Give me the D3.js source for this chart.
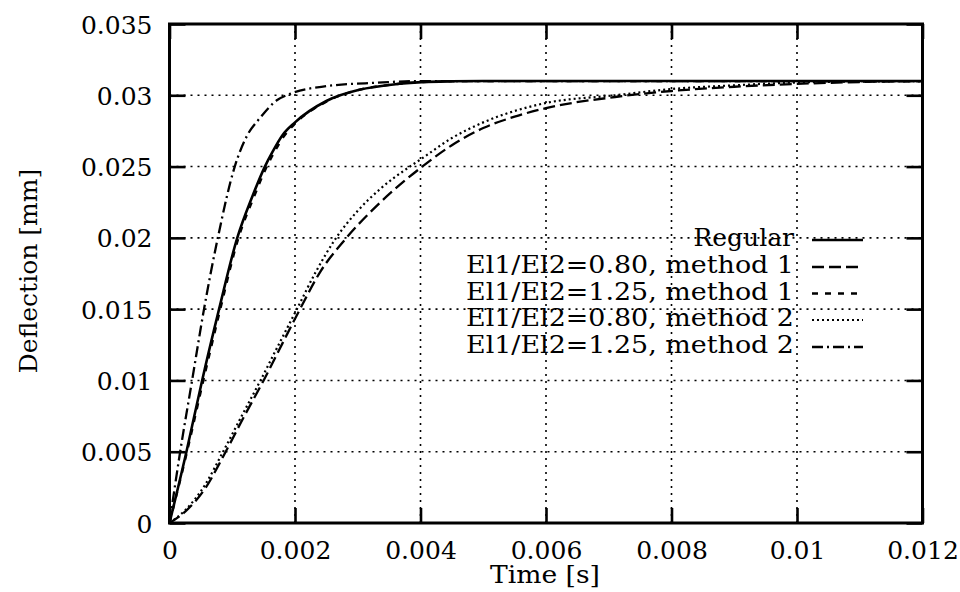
<!DOCTYPE html>
<html>
<head>
<meta charset="utf-8">
<script src="https://cdn.jsdelivr.net/npm/d3@7"></script>
<style>
  html, body { margin: 0; padding: 0; background: #fff; }
  svg { display: block; }
  text { font-family: "DejaVu Serif", serif; fill: #000; }
</style>
</head>
<body>
<svg id="chart" width="960" height="592"></svg>
<script>
// ---- data ----
const xTicks = [0, 0.002, 0.004, 0.006, 0.008, 0.01, 0.012];
const xTickLabels = ["0", "0.002", "0.004", "0.006", "0.008", "0.01", "0.012"];
const yTicks = [0, 0.005, 0.01, 0.015, 0.02, 0.025, 0.03, 0.035];
const yTickLabels = ["0", "0.005", "0.01", "0.015", "0.02", "0.025", "0.03", "0.035"];

const seriesNames = ["Regular", "El1/El2=0.80, method 1", "El1/El2=1.25, method 1",
                     "El1/El2=0.80, method 2", "El1/El2=1.25, method 2"];

const regularT = [0, 0.00027, 0.00052, 0.00079, 0.00108, 0.00132, 0.00152, 0.00165, 0.00180, 0.002, 0.0025, 0.00304, 0.00357, 0.00402, 0.0045, 0.005, 0.006, 0.008, 0.01, 0.012];
const regularV = [0, 0.005, 0.01, 0.015, 0.02, 0.0229, 0.025, 0.0261, 0.0272, 0.0281, 0.0296, 0.0304, 0.03076, 0.03092, 0.03098, 0.031, 0.031, 0.031, 0.031, 0.031];

const m1_080T = [0, 0.00025, 0.00058, 0.00086, 0.00118, 0.0015, 0.0018, 0.00208, 0.0024, 0.0028, 0.00335, 0.004, 0.0045, 0.005, 0.0055, 0.006, 0.0071, 0.008, 0.009, 0.01, 0.011, 0.012];
const m1_080V = [0, 0.0008, 0.0025, 0.0047, 0.0074, 0.01, 0.0126, 0.015, 0.0176, 0.0199, 0.02245, 0.0249, 0.0265, 0.0277, 0.0285, 0.0291, 0.02988, 0.0303, 0.0306, 0.0308, 0.03093, 0.031];

const m1_125T = [0, 0.00028, 0.00054, 0.00081, 0.0011, 0.00134, 0.00154, 0.00167, 0.00182, 0.002, 0.0025, 0.00304, 0.00357, 0.00402, 0.0045, 0.005, 0.006, 0.008, 0.01, 0.012];
const m1_125V = [0, 0.005, 0.01, 0.015, 0.02, 0.0228, 0.0249, 0.026, 0.0271, 0.028, 0.02955, 0.0304, 0.03076, 0.03092, 0.03098, 0.031, 0.031, 0.031, 0.031, 0.031];

const m2_080T = [0, 0.00025, 0.00057, 0.00083, 0.00115, 0.00145, 0.00175, 0.00203, 0.00233, 0.00264, 0.003, 0.00335, 0.00383, 0.004, 0.0045, 0.005, 0.0055, 0.006, 0.0071, 0.008, 0.009, 0.01, 0.011, 0.012];
const m2_080V = [0, 0.0009, 0.0027, 0.0048, 0.0075, 0.01, 0.0126, 0.015, 0.0176, 0.0199, 0.0219, 0.0234, 0.025, 0.0255, 0.027, 0.0281, 0.0289, 0.02946, 0.0300, 0.03044, 0.0307, 0.0309, 0.03096, 0.031];

const m2_125T = [0, 0.00017, 0.00036, 0.00055, 0.00077, 0.00104, 0.00124, 0.00144, 0.00171, 0.00192, 0.0025, 0.0033, 0.004, 0.006, 0.008, 0.01, 0.012];
const m2_125V = [0, 0.005, 0.01, 0.015, 0.02, 0.025, 0.0272, 0.0284, 0.02965, 0.0301, 0.03064, 0.03088, 0.031, 0.031, 0.031, 0.031, 0.031];

const seriesT = [regularT, m1_080T, m1_125T, m2_080T, m2_125T];
const seriesV = [regularV, m1_080V, m1_125V, m2_080V, m2_125V];

// ---- styles ----
const dashes = [null, "12,5", "6,7", "2,3", "11,4,2,4"];
const widths = [2.6, 2.3, 2.3, 2.2, 2.3];

const svg = d3.select("#chart");
const pLeft = 169.5, pRight = 922.5, pTop = 24, pBottom = 523;

const x = d3.scaleLinear().domain([0, 0.012]).range([pLeft, pRight]);
const y = d3.scaleLinear().domain([0, 0.035]).range([pBottom, pTop]);

svg.append("defs").append("clipPath").attr("id", "clip")
  .append("rect").attr("x", pLeft).attr("y", pTop).attr("width", pRight - pLeft).attr("height", pBottom - pTop);

// grid
const grid = svg.append("g");
xTicks.slice(1, -1).forEach(t => {
  grid.append("line").attr("x1", x(t)).attr("x2", x(t)).attr("y1", pTop).attr("y2", pBottom)
    .attr("stroke", "#000").attr("stroke-width", 1.6).attr("stroke-dasharray", "2,5");
});
yTicks.slice(1, -1).forEach(v => {
  grid.append("line").attr("x1", pLeft).attr("x2", pRight).attr("y1", y(v)).attr("y2", y(v))
    .attr("stroke", "#000").attr("stroke-width", 1.6).attr("stroke-dasharray", "2,5");
});

// curves
const line = d3.line().x(d => x(d[0])).y(d => y(d[1])).curve(d3.curveMonotoneX);
const curves = svg.append("g").attr("clip-path", "url(#clip)");
seriesT.forEach((ts, i) => {
  const pts = ts.map((t, j) => [t, seriesV[i][j]]);
  curves.append("path").attr("d", line(pts)).attr("fill", "none")
    .attr("stroke", "#000").attr("stroke-width", widths[i])
    .attr("stroke-dasharray", dashes[i]);
});

// axes with inward ticks
const fmtX = (d, i) => xTickLabels[i];
const fmtY = (d, i) => yTickLabels[i];

const axB = svg.append("g").attr("transform", `translate(0,${pBottom})`)
  .call(d3.axisBottom(x).tickValues(xTicks).tickFormat(fmtX).tickSizeInner(-15).tickSizeOuter(0));
const axT = svg.append("g").attr("transform", `translate(0,${pTop})`)
  .call(d3.axisTop(x).tickValues(xTicks).tickFormat("").tickSizeInner(-15).tickSizeOuter(0));
const axL = svg.append("g").attr("transform", `translate(${pLeft},0)`)
  .call(d3.axisLeft(y).tickValues(yTicks).tickFormat(fmtY).tickSizeInner(-16).tickSizeOuter(0));
const axR = svg.append("g").attr("transform", `translate(${pRight},0)`)
  .call(d3.axisRight(y).tickValues(yTicks).tickFormat("").tickSizeInner(-16).tickSizeOuter(0));

[axB, axT, axL, axR].forEach(a => {
  a.select(".domain").remove();
  a.selectAll(".tick line").attr("stroke", "#000").attr("stroke-width", 2.6);
});
axT.selectAll("text").remove();
axR.selectAll("text").remove();

axB.selectAll(".tick text")
  .attr("y", 36).attr("dy", null)
  .attr("font-family", "DejaVu Serif").attr("font-size", 25).attr("fill", "#000");
axL.selectAll(".tick text")
  .attr("x", -17).attr("dy", "0.36em")
  .attr("font-family", "DejaVu Serif").attr("font-size", 25).attr("fill", "#000");

// frame
svg.append("rect").attr("x", pLeft).attr("y", pTop).attr("width", pRight - pLeft).attr("height", pBottom - pTop)
  .attr("fill", "none").attr("stroke", "#000").attr("stroke-width", 3);

// axis titles
svg.append("text").attr("x", 545).attr("y", 583).attr("text-anchor", "middle")
  .attr("font-size", 25).attr("textLength", 110).attr("lengthAdjust", "spacingAndGlyphs")
  .text("Time [s]");
svg.append("text").attr("transform", "translate(37,271) rotate(-90)").attr("text-anchor", "middle")
  .attr("font-size", 25).text("Deflection [mm]");

// legend
const legendRows = [240, 267, 293.5, 320, 347];
const legend = svg.append("g");
seriesNames.forEach((name, i) => {
  const ty = legendRows[i];
  const t = legend.append("text").attr("x", 794).attr("y", ty + 6).attr("text-anchor", "end")
    .attr("font-size", 25).text(name);
  if (i > 0) t.attr("textLength", 328).attr("lengthAdjust", "spacingAndGlyphs");
  legend.append("line").attr("x1", 812).attr("x2", 863).attr("y1", ty).attr("y2", ty)
    .attr("stroke", "#000").attr("stroke-width", widths[i]).attr("stroke-dasharray", dashes[i]);
});
</script>
</body>
</html>
